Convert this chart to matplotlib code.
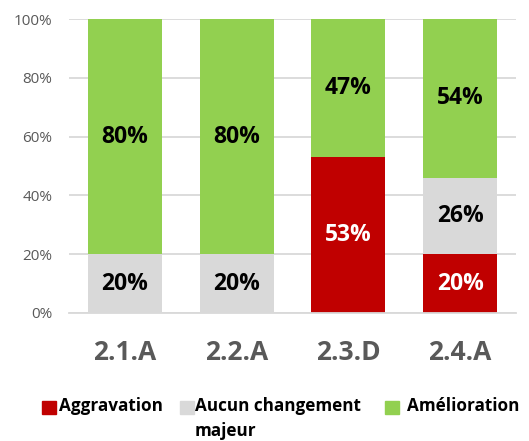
import matplotlib.pyplot as plt
from matplotlib.patches import Rectangle
import numpy as np

categories = ["2.1.A", "2.2.A", "2.3.D", "2.4.A"]
aggravation = [0, 0, 53, 20]
aucun = [20, 20, 0, 26]
amelioration = [80, 80, 47, 54]

series_names = ["Aggravation", "Aucun changement\nmajeur", "Amélioration"]
colors = ["#C00000", "#D9D9D9", "#92D050"]
label_colors = ["white", "black", "black"]

plt.rcParams['font.family'] = ['Open Sans', 'DejaVu Sans']

fig = plt.figure(figsize=(5.29, 4.41), dpi=100)
ax = fig.add_axes([69 / 529, 1 - 313 / 441, (516 - 69) / 529, (313 - 19) / 441])

x = np.arange(len(categories))
bottom = np.zeros(len(categories))
for vals, col, lcol in zip([aggravation, aucun, amelioration], colors, label_colors):
    vals = np.array(vals, dtype=float)
    ax.bar(x, vals, 0.662, bottom=bottom, color=col, zorder=2)
    for xi, b, v in zip(x, bottom, vals):
        if v > 0:
            ax.text(xi, b + v / 2, f"{v:.0f}%", ha="center", va="center",
                    fontsize=16.5, fontweight="bold", color=lcol, zorder=3)
    bottom += vals

ax.set_xlim(-0.5, 3.5)
ax.set_ylim(0, 100)
ax.set_yticks(range(0, 101, 20))
ax.set_yticklabels([f"{v}%" for v in range(0, 101, 20)])
ax.yaxis.grid(True, color="#D9D9D9", linewidth=1.3, zorder=0)
ax.set_xticks(x)
ax.set_xticklabels(categories, fontsize=19, fontweight="bold", color="#595959")
ax.tick_params(axis="x", length=0, pad=19)
ax.tick_params(axis="y", length=0, labelsize=11, labelcolor="#595959", pad=12)
for s in ["top", "right", "left"]:
    ax.spines[s].set_visible(False)
ax.spines["bottom"].set_color("#D9D9D9")
ax.spines["bottom"].set_linewidth(1.3)

# legend drawn by hand (handle aligned with first line of text)
leg_x = [42, 180, 385]
text_x = [59, 195, 407]
for lx, tx, name, col in zip(leg_x, text_x, series_names, colors):
    fig.patches.append(Rectangle((lx / 529, 1 - 414 / 441), 13.5 / 529, 13.5 / 441,
                                 transform=fig.transFigure, color=col))
    fig.text(tx / 529, 1 - 397 / 441, name, ha="left", va="top",
             fontsize=12.3, fontweight="bold", color="black", linespacing=1.5)

fig.savefig("out.png", dpi=100)
